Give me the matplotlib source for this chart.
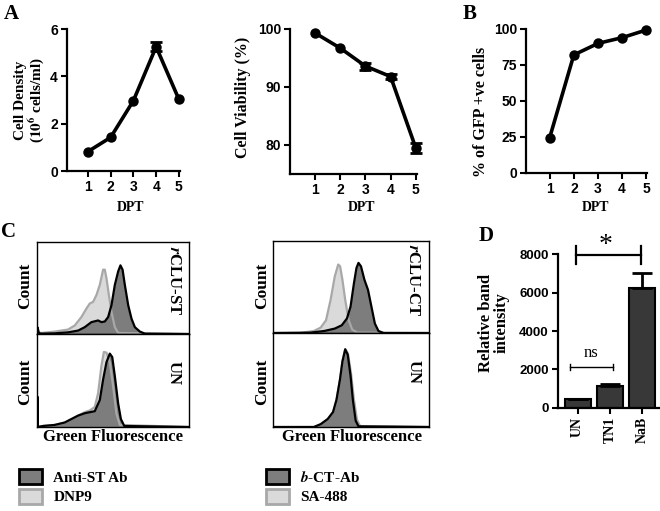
import numpy as np
import matplotlib
matplotlib.use('Agg')
import matplotlib.pyplot as plt
from matplotlib.patches import Patch

plt.rcParams['font.family'] = 'Liberation Sans'
plt.rcParams['font.weight'] = 'bold'
plt.rcParams['mathtext.fontset'] = 'stix'

SERIF = 'Liberation Serif'

# panel A / B data
dpt = [1, 2, 3, 4, 5]
density = [0.82, 1.42, 2.97, 5.25, 3.03]
density_err = [0, 0, 0, 0.2, 0]
viability = [99.3, 96.7, 93.6, 91.8, 79.5]
viability_err = [0, 0, 0.6, 0.5, 0.8]
gfp = [24.5, 82, 90, 94, 99.3]
gfp_err = [0, 0, 0, 0, 0]

# panel D data
bands = ['UN', 'TN1', 'NaB']
band_vals = [450, 1130, 6250]
band_err = [0, 80, 750]

# panel C histograms (fraction of box width / height)
st_anti_x = [0.0, 0.004, 0.012, 0.029, 0.116, 0.204, 0.270, 0.314, 0.358, 0.402, 0.424, 0.446, 0.468,
             0.490, 0.512, 0.534, 0.549, 0.563, 0.578, 0.600, 0.622, 0.644, 0.677, 0.710, 1.0]
st_anti_y = [0.0, 0.07, 0.01, 0.004, 0.007, 0.018, 0.037, 0.074, 0.129, 0.147, 0.129, 0.136, 0.184,
             0.313, 0.533, 0.680, 0.746, 0.699, 0.533, 0.313, 0.165, 0.074, 0.026, 0.004, 0.0]
st_dnp_x = [0.0, 0.004, 0.012, 0.029, 0.116, 0.204, 0.248, 0.292, 0.325, 0.347, 0.369, 0.391, 0.413,
            0.435, 0.446, 0.457, 0.473, 0.490, 0.512, 0.534, 1.0]
st_dnp_y = [0.0, 0.06, 0.015, 0.011, 0.026, 0.048, 0.092, 0.184, 0.276, 0.331, 0.349, 0.423, 0.533,
            0.699, 0.699, 0.607, 0.423, 0.239, 0.074, 0.011, 0.0]

un1_anti_x = [0.0, 0.003, 0.006, 0.040, 0.116, 0.182, 0.226, 0.270, 0.314, 0.347, 0.380, 0.413, 0.435,
              0.457, 0.479, 0.495, 0.512, 0.534, 0.552, 0.574, 1.0]
un1_anti_y = [0.0, 0.326, 0.0, 0.011, 0.022, 0.048, 0.085, 0.122, 0.148, 0.159, 0.170, 0.289, 0.511,
              0.696, 0.789, 0.752, 0.548, 0.252, 0.085, 0.011, 0.0]
un1_dnp_x = [0.0, 0.040, 0.116, 0.182, 0.226, 0.270, 0.314, 0.347, 0.380, 0.402, 0.424, 0.440, 0.457,
             0.479, 0.501, 0.523, 0.545, 1.0]
un1_dnp_y = [0.0, 0.011, 0.022, 0.048, 0.085, 0.122, 0.159, 0.178, 0.215, 0.363, 0.659, 0.807, 0.800,
             0.696, 0.437, 0.141, 0.022, 0.0]

ct_ab_x = [0.0, 0.239, 0.329, 0.396, 0.441, 0.474, 0.497, 0.519, 0.535, 0.548, 0.564, 0.586, 0.609,
           0.631, 0.653, 0.676, 0.709, 1.0]
ct_ab_y = [0.0, 0.004, 0.022, 0.048, 0.084, 0.158, 0.286, 0.542, 0.707, 0.762, 0.725, 0.579, 0.469,
           0.286, 0.103, 0.022, 0.0, 0.0]
ct_sa_x = [0.0, 0.172, 0.262, 0.306, 0.340, 0.369, 0.396, 0.418, 0.430, 0.445, 0.463, 0.485, 0.508,
           0.541, 1.0]
ct_sa_y = [0.0, 0.0, 0.022, 0.059, 0.139, 0.359, 0.615, 0.744, 0.725, 0.579, 0.359, 0.139, 0.037,
           0.004, 0.0]

un2_ab_x = [0.0, 0.262, 0.306, 0.351, 0.385, 0.407, 0.430, 0.445, 0.463, 0.479, 0.497, 0.512, 0.530,
            0.548, 1.0]
un2_ab_y = [0.0, 0.0, 0.030, 0.085, 0.159, 0.289, 0.511, 0.696, 0.826, 0.770, 0.548, 0.289, 0.067,
            0.007, 0.0]
un2_sa_x = [0.0, 0.262, 0.306, 0.351, 0.385, 0.407, 0.430, 0.445, 0.463, 0.481, 0.501, 0.518, 0.538,
            0.558, 1.0]
un2_sa_y = [0.0, 0.0, 0.030, 0.085, 0.159, 0.289, 0.511, 0.700, 0.830, 0.780, 0.560, 0.300, 0.080,
            0.010, 0.0]

DARK = '#7d7d7d'
LIGHT = '#dadada'
LIGHT_EDGE = '#a8a8a8'
BAR = '#383838'

W, H = 660, 511
fig = plt.figure(figsize=(6.6, 5.11), dpi=100)


def box(l, t, r, b):
    return [l / W, 1 - b / H, (r - l) / W, (b - t) / H]


def ftext(x, y, s, **kw):
    kw.setdefault('ha', 'center')
    kw.setdefault('va', 'center')
    kw.setdefault('family', SERIF)
    kw.setdefault('weight', 'bold')
    fig.text(x / W, 1 - y / H, s, **kw)


def prism(ax):
    for s in ['top', 'right']:
        ax.spines[s].set_visible(False)
    for s in ['left', 'bottom']:
        ax.spines[s].set_linewidth(1.6)
    ax.tick_params(width=1.5, length=4, labelsize=10, pad=2.5)
    for lab in ax.get_yticklabels():
        lab.set_fontweight('bold')


def line_panel(rect, y, err, xlim, ylim, yticks):
    ax = fig.add_axes(box(*rect))
    ax.plot(dpt, y, color='black', lw=2.6, marker='o', ms=6.5, clip_on=False, zorder=3)
    idx = [i for i, e in enumerate(err) if e > 0]
    if idx:
        ax.errorbar([dpt[i] for i in idx], [y[i] for i in idx], yerr=[err[i] for i in idx],
                    fmt='none', ecolor='black', elinewidth=2, capsize=4, capthick=2,
                    clip_on=False, zorder=4)
    ax.set_xlim(*xlim)
    ax.set_ylim(*ylim)
    ax.set_xticks(dpt)
    ax.set_yticks(yticks)
    prism(ax)
    for lab in ax.get_xticklabels():
        lab.set_fontweight('bold')
    return ax


line_panel((67, 29, 180, 171), density, density_err, (0.08, 5.05), (0, 6), [0, 2, 4, 6])
line_panel((290, 29, 417, 174), viability, viability_err, (0.0, 5.05), (75, 100), [80, 90, 100])
line_panel((526, 29, 647, 173), gfp, gfp_err, (0.02, 5.03), (0, 100), [0, 25, 50, 75, 100])

ftext(30, 100, 'Cell Density\n($\\mathbf{10^6}$ cells/ml)', rotation=90, size=11, linespacing=1.0)
ftext(243, 97, 'Cell Viability (%)', rotation=90, size=11.5)
ftext(481, 112, '% of GFP +ve cells', rotation=90, size=11.5)
for xc in [131, 362, 596]:
    ftext(xc, 207, 'DPT', size=10)

ftext(11, 14, 'A', size=15)
ftext(470, 14, 'B', size=15)
ftext(9, 232, 'C', size=15)
ftext(486, 236, 'D', size=15)


# panel C
def hist_panel(rect, dx, dy, lx, ly, tag):
    ax = fig.add_axes(box(*rect))
    ax.fill_between(lx, ly, color=LIGHT, lw=0)
    ax.fill_between(dx, dy, color=DARK, lw=0)
    ax.plot(lx, ly, color=LIGHT_EDGE, lw=1.6)
    ax.plot(dx, dy, color='black', lw=1.6)
    ax.set_xlim(0, 1)
    ax.set_ylim(0, 1)
    ax.set_xticks([])
    ax.set_yticks([])
    for s in ax.spines.values():
        s.set_linewidth(1.0)
    ax.text(0.9, 0.58, tag, transform=ax.transAxes, rotation=270, ha='center', va='center',
            family=SERIF, weight='bold', size=12)
    return ax


hist_panel((37, 242, 189, 334), st_anti_x, st_anti_y, st_dnp_x, st_dnp_y, '$\\mathit{r}$CLU-ST')
hist_panel((37, 334, 189, 427), un1_anti_x, un1_anti_y, un1_dnp_x, un1_dnp_y, 'UN')
hist_panel((273, 241, 429, 333), ct_ab_x, ct_ab_y, ct_sa_x, ct_sa_y, '$\\mathit{r}$CLU-CT')
hist_panel((273, 333, 429, 427), un2_ab_x, un2_ab_y, un2_sa_x, un2_sa_y, 'UN')

for xc in [25, 262]:
    ftext(xc, 286, 'Count', rotation=90, size=12.5)
    ftext(xc, 382, 'Count', rotation=90, size=12.5)
ftext(113, 437, 'Green Fluorescence', size=12)
ftext(352, 437, 'Green Fluorescence', size=12)

leg_kw = dict(loc='upper left', frameon=False, prop=dict(family=SERIF, weight='bold', size=11),
              handlelength=1.5, handleheight=1.15, labelspacing=0.25, handletextpad=0.75,
              borderpad=0, borderaxespad=0)
fig.legend(handles=[Patch(facecolor=DARK, edgecolor='black', lw=2, label='Anti-ST Ab'),
                    Patch(facecolor=LIGHT, edgecolor=LIGHT_EDGE, lw=2, label='DNP9')],
           bbox_to_anchor=(19 / W, 1 - 469 / H), **leg_kw)
fig.legend(handles=[Patch(facecolor=DARK, edgecolor='black', lw=2, label='$\\mathit{b}$-CT-Ab'),
                    Patch(facecolor=LIGHT, edgecolor=LIGHT_EDGE, lw=2, label='SA-488')],
           bbox_to_anchor=(266 / W, 1 - 469 / H), **leg_kw)

# panel D
axd = fig.add_axes(box(557.7, 254.3, 660, 407.7))
xb = np.arange(len(bands))
axd.bar(xb, band_vals, width=0.8, color=BAR, edgecolor='black', lw=1.5,
        yerr=[[0] * len(bands), band_err], capsize=7,
        error_kw=dict(elinewidth=2, capthick=2, ecolor='black'))
axd.set_xlim(-0.61, 2.54)
axd.set_ylim(0, 8000)
axd.set_yticks([0, 2000, 4000, 6000, 8000])
axd.set_xticks(xb)
axd.set_xticklabels(bands, rotation=90, family=SERIF, weight='bold', size=11.5)
prism(axd)
axd.tick_params(axis='y', labelsize=9.5)

# significance brackets
star_x0, star_x1, star_y, star_cap = -0.04, 1.96, 7950, 470
ns_x0, ns_x1, ns_y, ns_cap = -0.235, 1.09, 2125, 180
axd.plot([star_x0, star_x1], [star_y, star_y], color='black', lw=1.6, clip_on=False)
for xv in [star_x0, star_x1]:
    axd.plot([xv, xv], [star_y - star_cap, star_y + star_cap], color='black', lw=1.6, clip_on=False)
axd.text(0.86, 8450, '*', ha='center', va='center', family=SERIF, weight='normal', size=20)
axd.plot([ns_x0, ns_x1], [ns_y, ns_y], color='black', lw=1.0)
for xv in [ns_x0, ns_x1]:
    axd.plot([xv, xv], [ns_y - ns_cap, ns_y + ns_cap], color='black', lw=1.0)
axd.text(0.43, ns_y + 330, 'ns', ha='center', va='bottom', family=SERIF, weight='normal', size=12)

ftext(494, 323, 'Relative band\nintensity', rotation=90, size=12, linespacing=1.0)

fig.savefig('out.png', dpi=100)
